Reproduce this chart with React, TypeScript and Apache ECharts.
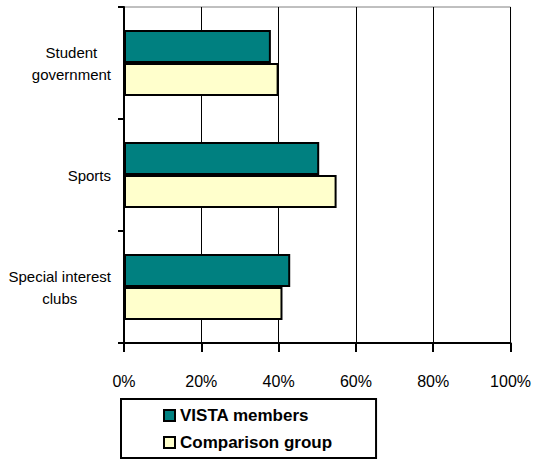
import React, { useEffect, useRef } from "react";
import * as echarts from "echarts";

const categories = ["Student\ngovernment", "Sports", "Special interest\nclubs"];
const vistaMembers = [38, 50.5, 43];
const comparisonGroup = [40, 55, 41];
const xTicks = { min: 0, max: 100, interval: 20 };

const FONT = "'Liberation Sans', Arial, sans-serif";

export default function App() {
  const ref = useRef<HTMLDivElement>(null);
  useEffect(() => {
    if (!ref.current) return;
    const chart = echarts.init(ref.current, undefined, { renderer: "svg" });
    chart.setOption({
      animation: false,
      backgroundColor: "#ffffff",
      textStyle: { fontFamily: FONT },
      grid: {
        left: 124,
        top: 7,
        right: 21,
        bottom: 118,
        show: true,
        borderColor: "#808080",
        borderWidth: 1,
        backgroundColor: "#ffffff",
      },
      legend: {
        left: 121,
        top: 399,
        orient: "vertical",
        padding: [8, 44, 7, 42],
        borderColor: "#000000",
        borderWidth: 2,
        borderRadius: 0,
        itemWidth: 11,
        itemHeight: 11,
        itemGap: 10,
        icon: "rect",
        textStyle: { fontFamily: FONT, fontSize: 17, fontWeight: "bold", color: "#000" },
        data: ["VISTA members", "Comparison group"],
      },
      xAxis: {
        type: "value",
        min: xTicks.min,
        max: xTicks.max,
        interval: xTicks.interval,
        axisLine: { show: true, lineStyle: { color: "#000", width: 2 } },
        axisTick: { show: true, length: 9, lineStyle: { color: "#000", width: 2 } },
        splitLine: { show: true, lineStyle: { color: "#000", width: 1 } },
        axisLabel: {
          formatter: "{value}%",
          fontSize: 16,
          color: "#000",
          margin: 30,
          fontFamily: FONT,
        },
      },
      yAxis: {
        type: "category",
        data: categories,
        inverse: true,
        axisLine: { show: true, lineStyle: { color: "#000", width: 2 } },
        axisTick: { show: true, length: 6, lineStyle: { color: "#000", width: 2 } },
        axisLabel: {
          color: "#000",
          fontSize: 15,
          margin: 13,
          align: "right",
          fontFamily: FONT,
          lineHeight: 22,
          formatter: (v: string) =>
            v
              .split("\n")
              .map((l) => `{c|${l}}`)
              .join("\n"),
          rich: {
            c: { align: "center", fontSize: 15, lineHeight: 22, fontFamily: FONT, color: "#000" },
          },
        },
      },
      series: [
        {
          name: "VISTA members",
          type: "bar",
          data: vistaMembers,
          barWidth: 33,
          barGap: "0%",
          itemStyle: { color: "#008080", borderColor: "#000", borderWidth: 2 },
        },
        {
          name: "Comparison group",
          type: "bar",
          data: comparisonGroup,
          barWidth: 33,
          barGap: "0%",
          itemStyle: { color: "#FFFFCC", borderColor: "#000", borderWidth: 2 },
        },
      ],
    });
    return () => chart.dispose();
  }, []);
  return <div ref={ref} style={{ width: 534, height: 461, position: "absolute", left: 0, top: 0 }} />;
}
